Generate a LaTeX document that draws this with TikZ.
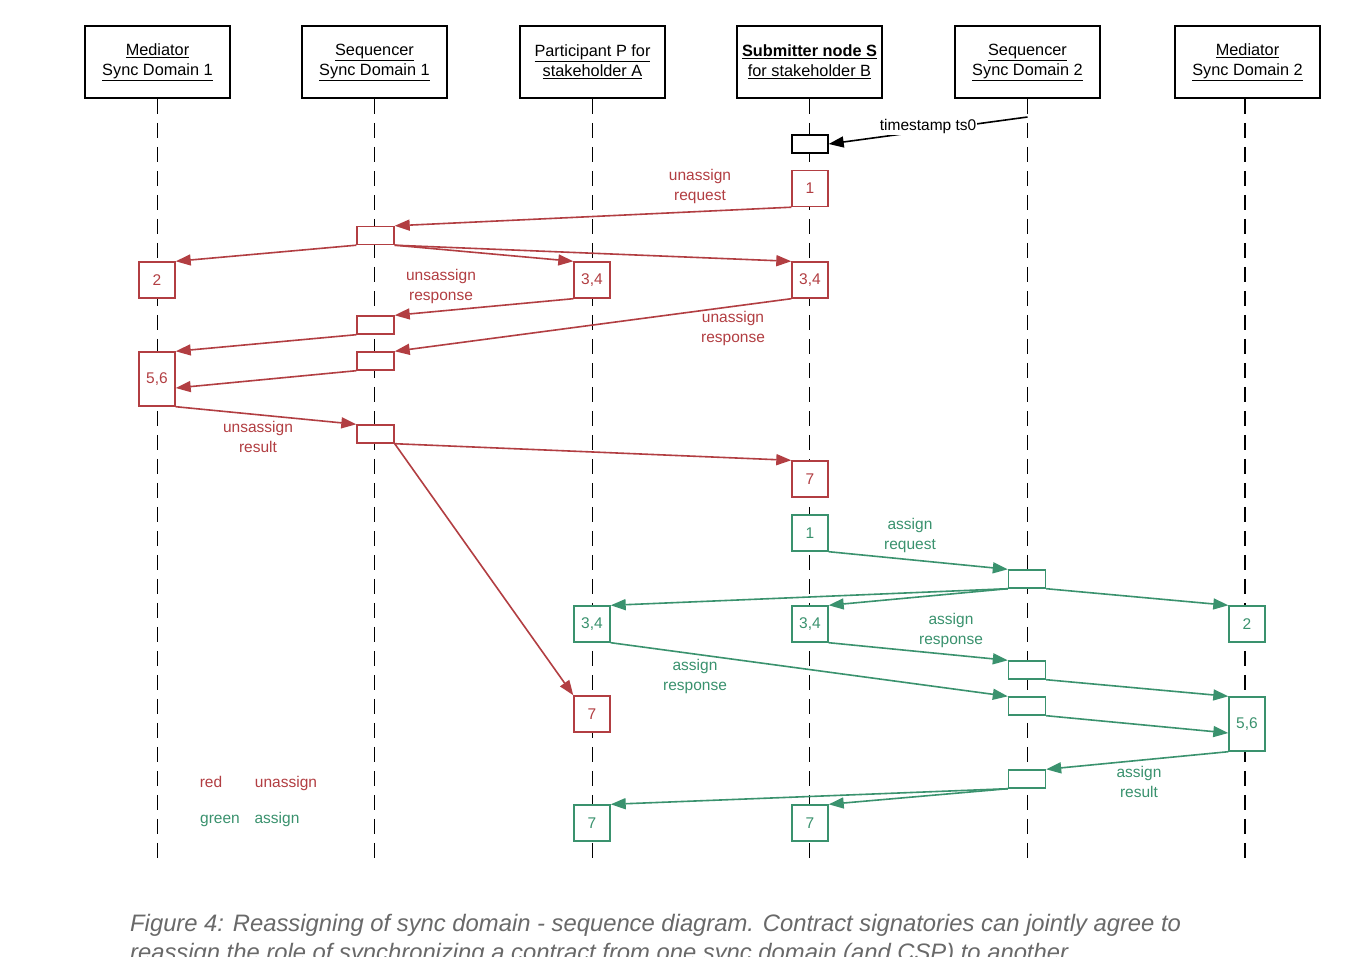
\documentclass[tikz,border=0pt]{standalone}
\usepackage{fontspec}
\setmainfont{Liberation Sans}
\usetikzlibrary{arrows.meta}
\definecolor{ured}{RGB}{178,62,66}
\definecolor{ugreen}{RGB}{58,146,110}
\definecolor{capgrey}{RGB}{105,105,105}
\tikzset{
  fs/.style={font=\fontsize{15.5}{20}\selectfont},
  hfs/.style={font=\fontsize{16.3}{20}\selectfont},
  head/.style={draw=black, line width=1.7pt, minimum width=145pt, minimum height=72pt, inner sep=0pt, align=center, hfs},
  lifeline/.style={draw=black, line width=1.7pt, dash pattern=on 15pt off 9pt},
  act/.style={draw, line width=1.4pt, fill=white, minimum width=36pt, minimum height=36pt, inner sep=0pt, fs},
  sact/.style={act, minimum height=18pt, minimum width=37pt},
  tact/.style={act, minimum height=54pt},
  msg/.style={line width=1.6pt, -{Triangle[length=15pt,width=11pt]}},
  lbl/.style={fs, align=center, inner sep=0pt},
  capf/.style={anchor=base west, inner sep=0pt, text=capgrey, font=\fontsize{23.8}{29}\selectfont\itshape},
}
\begin{document}
\begin{tikzpicture}[x=1pt,y=-1pt]
\useasboundingbox (0,0) rectangle (1352,956);
\fill[white] (0,0) rectangle (1352,956);
% headers
\node[head] (h1) at (157.5,62) {\underline{Mediator}\\\underline{Sync Domain 1}};
\node[head] (h2) at (374.5,62) {\underline{Sequencer}\\\underline{Sync Domain 1}};
\node[head] (h3) at (592.5,62) {\underline{Participant P for}\\\underline{stakeholder A}};
\node[head] (h4) at (809.5,62) {\underline{\textbf{Submitter node S}}\\\underline{for stakeholder B}};
\node[head] (h5) at (1027.5,62) {\underline{Sequencer}\\\underline{Sync Domain 2}};
\node[head] (h6) at (1247.5,62) {\underline{Mediator}\\\underline{Sync Domain 2}};
% lifeline ends
\coordinate (e1) at (157.5,860);
\coordinate (e2) at (374.5,860);
\coordinate (e3) at (592.5,860);
\coordinate (e4) at (809.5,860);
\coordinate (e5) at (1027.5,860);
\coordinate (e6) at (1245,860);
\draw[lifeline] (h1.south) -- (e1);
\draw[lifeline] (h2.south) -- (e2);
\draw[lifeline] (h3.south) -- (e3);
\draw[lifeline] (h4.south) -- (e4);
\draw[lifeline] (h5.south) -- (e5);
\draw[lifeline] (h6.south -| e6) -- (e6);
% timestamp
\node[act, draw=black, minimum height=18pt] (tb) at (810,144) {};
\coordinate (ts) at (1027.5,117);
\draw[line width=1.6pt, -{Triangle[length=15pt,width=11pt]}] (ts) -- node[fill=white, inner sep=1pt, fs, pos=0.5, yshift=4pt] (tslbl) {timestamp ts0} (tb.east);
% red boxes
\node[act, draw=ured, text=ured] (r1) at (810,188.5) {1};
\node[sact, draw=ured] (rs1) at (375.5,235.5) {};
\node[act, draw=ured, text=ured] (r2) at (157,280) {2};
\node[act, draw=ured, text=ured] (rp34) at (592,280) {3,4};
\node[act, draw=ured, text=ured] (rs34) at (810,280) {3,4};
\node[sact, draw=ured] (rs2) at (375.5,325) {};
\node[sact, draw=ured] (rs3) at (375.5,361) {};
\node[tact, draw=ured, text=ured] (r56) at (157,379) {5,6};
\node[sact, draw=ured] (rs4) at (375.5,434) {};
\node[act, draw=ured, text=ured] (rs7) at (810,479) {7};
\node[act, draw=ured, text=ured] (rp7) at (592,714) {7};
\begin{scope}[ured]
\draw[msg] (r1.south west) -- (rs1.north east);
\draw[msg] (rs1.south west) -- (r2.north east);
\draw[msg] (rs1.south east) -- (rp34.north west);
\draw[msg] (rs1.south east) -- (rs34.north west);
\draw[msg] (rp34.south west) -- (rs2.north east);
\draw[msg] (rs34.south west) -- (rs3.north east);
\draw[msg] (rs2.south west) -- (r56.north east);
\draw[msg] (rs3.south west) -- ([yshift=-9pt]r56.east);
\draw[msg] (r56.south east) -- (rs4.north west);
\draw[msg] (rs4.south east) -- (rs7.north west);
\draw[msg] (rs4.south east) -- (rp7.north west);
\node[lbl, text=ured] (l1) at (700,186) {unassign\\request};
\node[lbl, text=ured] (l2) at (441,286) {unsassign\\response};
\node[lbl, text=ured] (l3) at (733,328) {unassign\\response};
\node[lbl, text=ured] (l4) at (258,437) {unsassign\\result};
\node[lbl, text=ured, anchor=base] (lg1) at (211,787) {red};
\node[lbl, text=ured, anchor=base] (lg2) at (286,787) {unassign};
\end{scope}
% green boxes
\node[act, draw=ugreen, text=ugreen] (g1) at (810,533) {1};
\node[sact, draw=ugreen] (gs1) at (1027,579) {};
\node[act, draw=ugreen, text=ugreen] (gp34) at (592,624) {3,4};
\node[act, draw=ugreen, text=ugreen] (gs34) at (810,624) {3,4};
\node[act, draw=ugreen, text=ugreen] (g2) at (1247,624) {2};
\node[sact, draw=ugreen] (gs2) at (1027,670) {};
\node[sact, draw=ugreen] (gs3) at (1027,706) {};
\node[tact, draw=ugreen, text=ugreen] (g56) at (1247,724) {5,6};
\node[sact, draw=ugreen] (gs4) at (1027,779) {};
\node[act, draw=ugreen, text=ugreen] (gp7) at (592,823) {7};
\node[act, draw=ugreen, text=ugreen] (gs7) at (810,823) {7};
\begin{scope}[ugreen]
\draw[msg] (g1.south east) -- (gs1.north west);
\draw[msg] (gs1.south west) -- (gp34.north east);
\draw[msg] (gs1.south west) -- (gs34.north east);
\draw[msg] (gs1.south east) -- (g2.north west);
\draw[msg] (gs34.south east) -- (gs2.north west);
\draw[msg] (gp34.south east) -- (gs3.north west);
\draw[msg] (gs2.south east) -- (g56.north west);
\draw[msg] (gs3.south east) -- ([yshift=-9pt]g56.west);
\draw[msg] (g56.south west) -- (gs4.north east);
\draw[msg] (gs4.south west) -- (gp7.north east);
\draw[msg] (gs4.south west) -- (gs7.north east);
\node[lbl, text=ugreen] (m1) at (910,535) {assign\\request};
\node[lbl, text=ugreen] (m2) at (951,630) {assign\\response};
\node[lbl, text=ugreen] (m3) at (695,676) {assign\\response};
\node[lbl, text=ugreen] (m4) at (1139,782) {assign\\result};
\node[lbl, text=ugreen, anchor=base] (lg3) at (220,823) {green};
\node[lbl, text=ugreen, anchor=base] (lg4) at (277,823) {assign};
\end{scope}
% caption
\node[capf] (cap1) at (130,931) {Figure 4: Reassigning of sync domain - sequence diagram. Contract signatories can jointly agree to};
\node[capf] (cap2) at (130,960) {reassign the role of synchronizing a contract from one sync domain (and CSP) to another.};
\end{tikzpicture}
\end{document}
